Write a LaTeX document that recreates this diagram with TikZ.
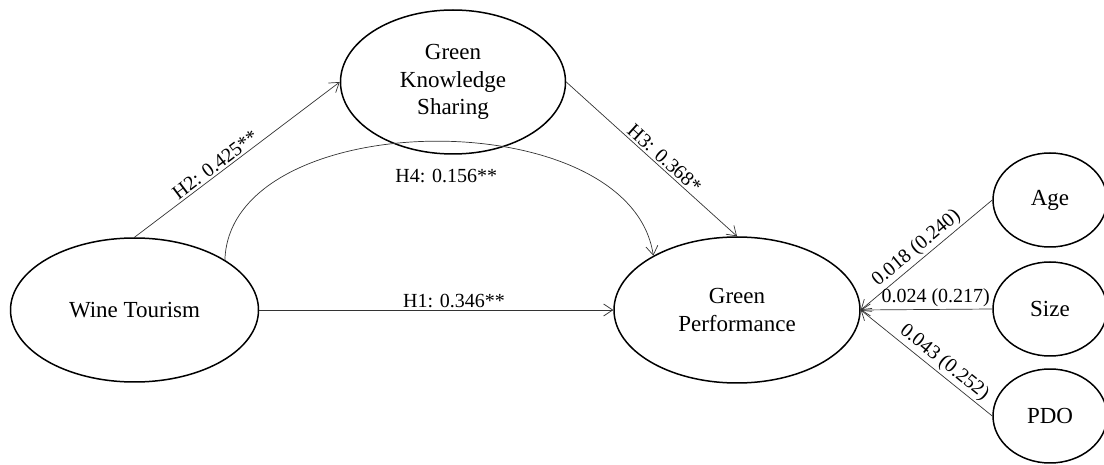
\documentclass[tikz,border=0pt]{standalone}
\usepackage{fontspec}
\setmainfont{Liberation Serif}
\usetikzlibrary{shapes.geometric,arrows.meta}
\tikzset{
	latent/.style={ellipse, draw, line width=1.5pt, inner sep=0pt, align=center, font=\fontsize{23}{27.5}\selectfont},
	control/.style={latent, minimum width=114pt, minimum height=94pt},
	effect/.style={->, line width=0.7pt, draw=black!80},
	coef/.style={font=\fontsize{20}{24}\selectfont, inner sep=2pt}
}
\begin{document}
\begin{tikzpicture}[x=1pt, y=1pt, line join=round, line cap=round, >={Straight Barb[length=9pt,width=12pt]}]
	\useasboundingbox (0,0) rectangle (1104,464);
	% constructs
	\node[latent, minimum width=248pt, minimum height=144pt] (wt) at (134.5,154) {Wine Tourism};
	\node[latent, minimum width=225pt, minimum height=144pt] (gks) at (453,382) {Green\\Knowledge\\Sharing};
	\node[latent, minimum width=246pt, minimum height=146pt] (gp) at (737,154) {Green\\Performance};
	% control variables
	\node[control] (age) at (1050,264) {Age};
	\node[control] (size) at (1050,155) {Size};
	\node[control] (pdo) at (1050,48) {PDO};
	% hypotheses
	\draw[effect] (wt.north) -- node[coef, sloped, above, pos=0.42] {H2: 0.425**} (gks.west);
	\draw[effect] (wt.east) -- node[coef, above, pos=0.55] {H1: 0.346**} (gp.west);
	\draw[effect] (gks.east) -- node[coef, sloped, above, pos=0.54] {H3: 0.368*} (gp.north);
	\draw[effect] (wt.29) .. controls (230,359) and (630,364) .. node[coef, pos=0.5, xshift=14pt, yshift=-35pt] {H4: 0.156**} (gp.147);
	% controls
	\draw[effect] (age.west) -- node[coef, sloped, above, pos=0.52] {0.018 (0.240)} (gp.east);
	\draw[effect] (size.west) -- node[coef, above, pos=0.43] {0.024 (0.217)} (gp.east);
	\draw[effect] (pdo.west) -- node[coef, sloped, above, pos=0.42] {0.043 (0.252)} (gp.east);
\end{tikzpicture}
\end{document}
